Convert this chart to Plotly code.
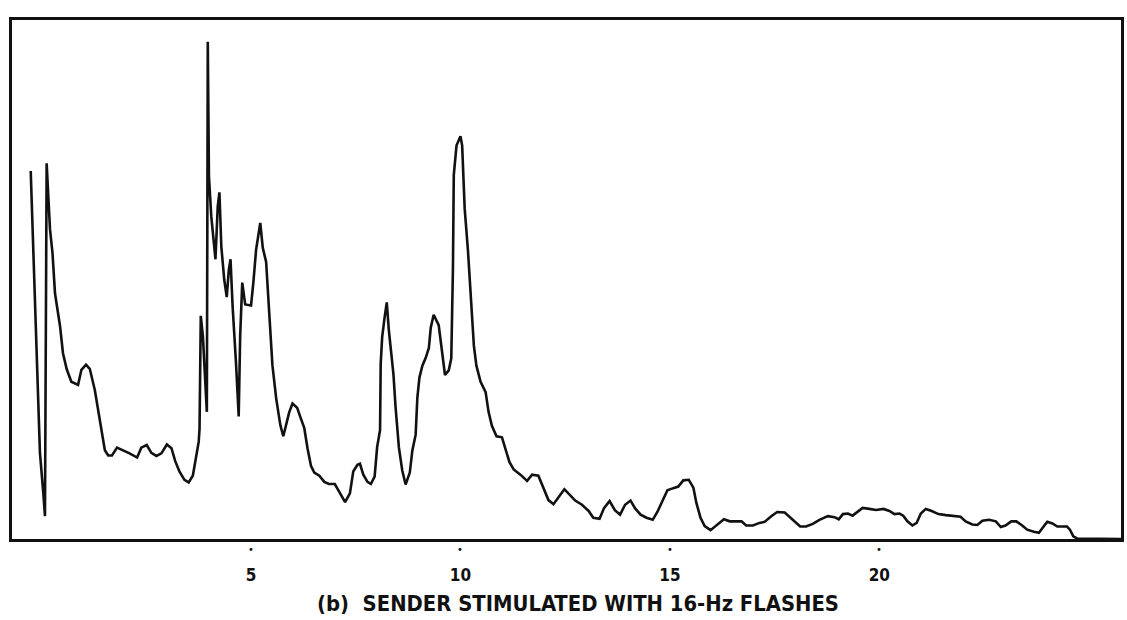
import plotly.graph_objects as go

# Frequency (Hz) and relative power
freq_hz = [
    -0.26, -0.20, -0.12, -0.04, 0.04, 0.08, 0.12, 0.20, 0.26, 0.32,
    0.44, 0.51, 0.60, 0.71, 0.87, 0.95, 1.06, 1.15, 1.27, 1.35,
    1.43, 1.51, 1.59, 1.68, 1.80, 1.94, 2.10, 2.28, 2.38, 2.51,
    2.62, 2.74, 2.86, 2.99, 3.10, 3.19, 3.29, 3.41, 3.51, 3.61,
    3.69, 3.75, 3.77, 3.80, 3.85, 3.905, 3.945, 3.967, 3.995, 4.05,
    4.10, 4.15, 4.205, 4.245, 4.29, 4.36, 4.42, 4.47, 4.51, 4.56,
    4.64, 4.705, 4.74, 4.79, 4.86, 5.00, 5.055, 5.12, 5.22, 5.28,
    5.36, 5.44, 5.51, 5.60, 5.70, 5.77, 5.85, 5.91, 5.99, 6.10,
    6.19, 6.27, 6.35, 6.43, 6.51, 6.63, 6.75, 6.86, 7.00, 7.10,
    7.18, 7.245, 7.36, 7.44, 7.54, 7.60, 7.68, 7.78, 7.86, 7.95,
    8.01, 8.08, 8.095, 8.13, 8.19, 8.24, 8.29, 8.40, 8.45, 8.53,
    8.61, 8.69, 8.79, 8.85, 8.93, 8.97, 9.02, 9.09, 9.17, 9.245,
    9.29, 9.36, 9.48, 9.56, 9.63, 9.72, 9.78, 9.82, 9.84, 9.905,
    10.00, 10.04, 10.10, 10.18, 10.25, 10.32, 10.38, 10.48, 10.60, 10.67,
    10.75, 10.86, 10.99, 11.07, 11.17, 11.27, 11.43, 11.59, 11.71, 11.86,
    11.98, 12.10, 12.22, 12.34, 12.48, 12.62, 12.74, 12.90, 13.06, 13.17,
    13.32, 13.43, 13.56, 13.69, 13.81, 13.93, 14.06, 14.17, 14.30, 14.44,
    14.59, 14.70, 14.80, 14.94, 15.08, 15.20, 15.32, 15.45, 15.56, 15.63,
    15.73, 15.83, 15.97, 16.11, 16.29, 16.43, 16.57, 16.71, 16.82, 16.98,
    17.14, 17.26, 17.42, 17.56, 17.74, 17.86, 17.98, 18.11, 18.25, 18.41,
    18.57, 18.77, 18.93, 19.03, 19.13, 19.25, 19.36, 19.48, 19.60, 19.76,
    19.92, 20.10, 20.24, 20.36, 20.48, 20.57, 20.67, 20.79, 20.89, 20.99,
    21.11, 21.25, 21.41, 21.59, 21.75, 21.94, 22.06, 22.22, 22.34, 22.46,
    22.62, 22.78, 22.90, 23.01, 23.15, 23.27, 23.41, 23.53, 23.69, 23.81,
    23.93, 24.01, 24.13, 24.25, 24.36, 24.48, 24.55, 24.63, 24.72, 25.80,
]
power = [
    70.9, 55.1, 34.7, 16.6, 8.9, 4.4, 72.4, 59.7, 55.1, 47.3,
    41.0, 35.8, 32.7, 30.3, 29.7, 32.6, 33.6, 32.8, 28.7, 24.9,
    21.6, 17.1, 16.1, 16.1, 17.6, 17.1, 16.5, 15.7, 17.6, 18.1,
    16.6, 16.0, 16.5, 18.2, 17.5, 15.0, 13.0, 11.4, 10.9, 12.2,
    16.0, 18.7, 21.2, 43.0, 39.1, 30.8, 24.5, 95.8, 69.9, 62.2,
    57.2, 53.9, 64.1, 66.8, 56.4, 50.0, 46.6, 51.9, 53.9, 44.8,
    34.0, 23.6, 39.0, 49.4, 45.2, 45.0, 49.4, 55.7, 60.9, 56.1,
    53.4, 43.2, 33.5, 27.1, 21.9, 19.8, 22.5, 24.4, 26.1, 25.3,
    23.2, 21.4, 17.4, 14.1, 12.8, 12.2, 11.0, 10.6, 10.6, 9.2,
    7.8, 7.1, 8.8, 13.0, 14.3, 14.5, 12.4, 11.0, 10.6, 12.0,
    17.7, 21.0, 33.7, 38.9, 42.8, 45.6, 40.2, 31.7, 25.4, 17.6,
    13.2, 10.5, 12.8, 17.0, 20.1, 27.2, 31.1, 33.4, 34.9, 36.8,
    40.7, 43.2, 41.2, 35.4, 31.6, 32.5, 34.8, 52.1, 70.1, 75.8,
    77.6, 75.8, 63.7, 55.4, 45.7, 37.2, 33.4, 30.3, 28.3, 24.5,
    21.8, 19.8, 19.6, 17.3, 14.8, 13.4, 12.4, 11.2, 12.4, 12.2,
    10.0, 7.5, 6.7, 8.0, 9.6, 8.4, 7.4, 6.6, 5.4, 4.1,
    3.9, 6.0, 7.3, 5.5, 4.7, 6.6, 7.4, 5.9, 4.7, 4.1,
    3.7, 5.2, 7.1, 9.4, 9.8, 10.1, 11.3, 11.4, 9.9, 7.0,
    4.1, 2.5, 1.7, 2.7, 3.8, 3.4, 3.4, 3.4, 2.6, 2.6,
    3.1, 3.3, 4.4, 5.2, 5.1, 4.2, 3.2, 2.4, 2.4, 2.9,
    3.7, 4.4, 4.2, 3.8, 4.8, 4.9, 4.5, 5.3, 6.0, 5.8,
    5.6, 5.8, 5.4, 4.8, 4.9, 4.5, 3.4, 2.6, 3.1, 4.9,
    5.8, 5.4, 4.8, 4.6, 4.5, 4.3, 3.4, 2.8, 2.7, 3.5,
    3.7, 3.4, 2.3, 2.6, 3.4, 3.4, 2.6, 1.8, 1.4, 1.2,
    2.5, 3.3, 3.0, 2.4, 2.4, 2.4, 1.8, 0.5, 0.1, 0.0,
]
assert len(freq_hz) == len(power), (len(freq_hz), len(power))

tick_vals = [5, 10, 15, 20]
tick_text = ["5", "10", "15", "20"]
caption = "(b)  SENDER STIMULATED WITH 16-Hz FLASHES"

INK = "#111111"

fig = go.Figure()
fig.add_trace(go.Scatter(
    x=freq_hz, y=power, mode="lines",
    line=dict(color=INK, width=2.6),
    showlegend=False, hoverinfo="skip",
))

# small handwritten-style tick dots just below the axis
dot_annotations = [
    dict(text="\u2022", x=v, xref="x", y=-0.021, yref="paper",
         xanchor="center", yanchor="middle", showarrow=False, borderpad=0,
         font=dict(family="DejaVu Sans", size=10, color=INK))
    for v in tick_vals
]

fig.update_layout(
    width=1127, height=620,
    margin=dict(l=12, r=3, t=20, b=81),
    paper_bgcolor="white", plot_bgcolor="white",
    xaxis=dict(
        range=[-0.707, 25.769], showgrid=False, zeroline=False,
        showline=True, mirror=True, linecolor=INK, linewidth=2.6,
        tickmode="array", tickvals=tick_vals,
        ticktext=["<b>" + t + "</b>" for t in tick_text],
        ticks="outside", ticklen=19, tickcolor="rgba(0,0,0,0)",
        tickfont=dict(family="DejaVu Sans Condensed, DejaVu Sans", size=17, color=INK),
    ),
    yaxis=dict(
        range=[0, 100], showgrid=False, zeroline=False,
        showline=True, mirror=True, linecolor=INK, linewidth=2.6,
        showticklabels=False, ticks="",
    ),
    annotations=dot_annotations + [dict(
        text="<b>" + caption + "</b>", xref="paper", yref="paper",
        x=0.510, y=-0.1236, xanchor="center", yanchor="middle",
        showarrow=False,
        font=dict(family="Liberation Sans Narrow, DejaVu Sans Condensed, Arial Narrow, sans-serif",
                  size=21.8, color=INK),
    )],
)

fig.write_html(
    "out.html",
    config={"displayModeBar": False},
    post_script="document.body.style.margin='0';document.body.style.overflow='hidden';",
)
